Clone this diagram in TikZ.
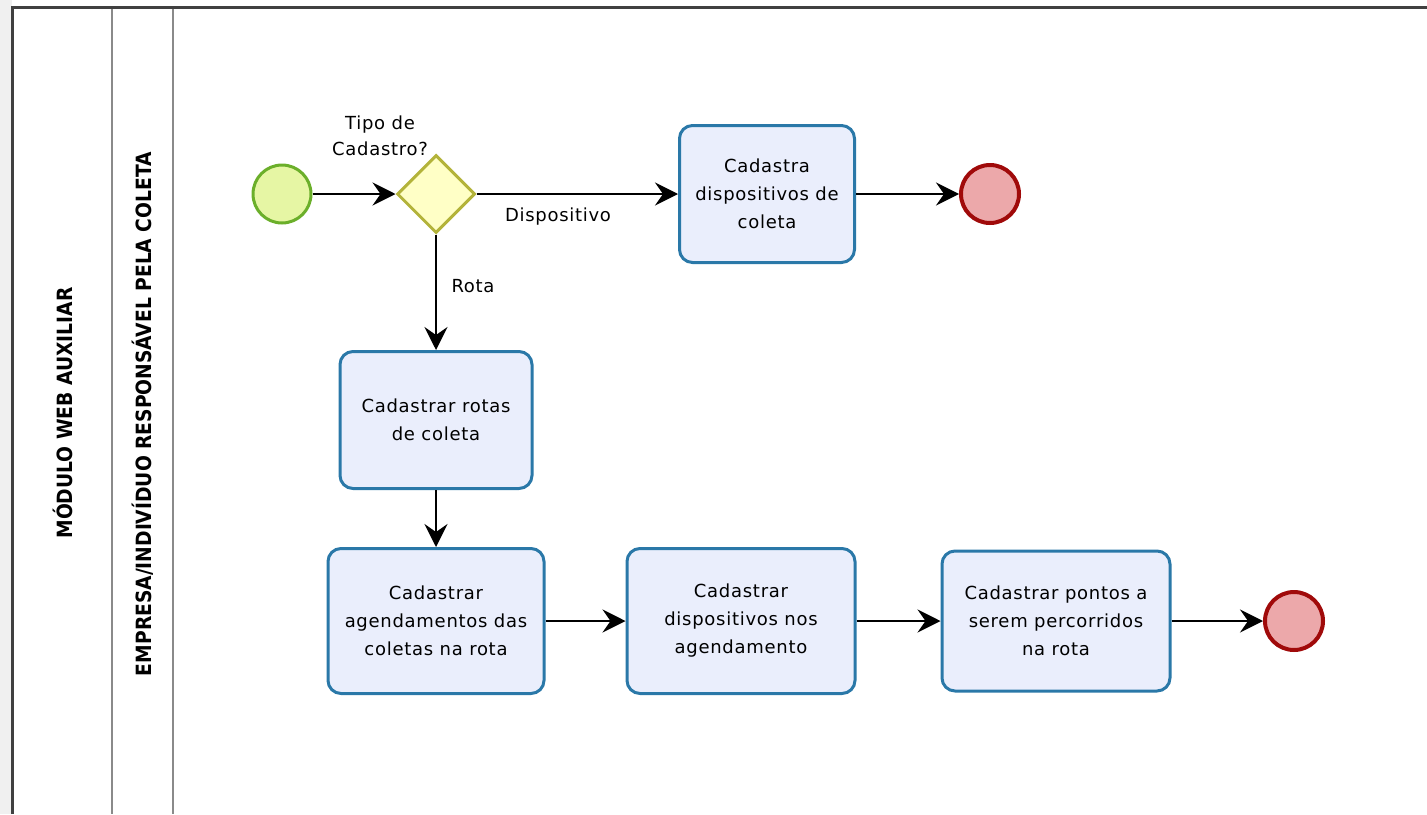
\documentclass[tikz,border=0pt]{standalone}
\usepackage{fontspec}
\usepackage{graphicx}
\setmainfont{DejaVu Sans}[LetterSpace=4]
\newfontfamily\lanefont{DejaVu Sans}
\usetikzlibrary{
    arrows.meta,
    shapes.geometric
}
\definecolor{tarefafill}{HTML}{EAEEFC}
\definecolor{tarefaborda}{HTML}{2A78A8}
\definecolor{iniciofill}{HTML}{E6F6A4}
\definecolor{inicioborda}{HTML}{6BAF2A}
\definecolor{gwfill}{HTML}{FFFFC6}
\definecolor{gwborda}{HTML}{B3B33A}
\definecolor{fimfill}{HTML}{ECA8AA}
\definecolor{fimborda}{HTML}{A00A0A}
\definecolor{raia}{HTML}{8A8A8A}
\tikzset{
  tarefa/.style={
    draw=tarefaborda,
    fill=tarefafill,
    line width=3pt,
    rounded corners=13pt,
    align=center,
    font=\fontsize{18}{28}\selectfont
  },
  evinicio/.style={
    circle,
    draw=inicioborda,
    fill=iniciofill,
    line width=3pt,
    minimum size=58pt
  },
  evfim/.style={
    circle,
    draw=fimborda,
    fill=fimfill,
    line width=4pt,
    minimum size=58pt
  },
  gateway/.style={
    diamond,
    draw=gwborda,
    fill=gwfill,
    line width=3pt,
    minimum size=78pt,
    inner sep=0pt
  },
  fluxo/.style={
    black,
    line width=1.7pt,
    -{Stealth[length=23pt,width=23pt,inset=8pt]}
  },
  rotulo/.style={
    font=\fontsize{18}{27}\selectfont,
    align=center
  },
  lane/.style={
    rotate=90,
    font=\lanefont\bfseries\fontsize{21}{23}\selectfont
  }
}

\begin{document}
\begin{tikzpicture}[x=1pt,y=-1pt]
    \useasboundingbox (0,0) rectangle (1427,814);

    % piscina e raias
    \fill[black!6] (0,0) rectangle (12,814);
    \draw[raia,line width=2pt] (112,7) -- (112,814);
    \draw[raia,line width=2pt] (173,7) -- (173,814);
    \draw[black!75,line width=3pt] (12,814) -- (12,7) -- (1427,7);
    \node[lane] (pool) at (63,413)
        {\scalebox{0.89}[1]{MÓDULO WEB AUXILIAR}};
    \node[lane] (raia1) at (143,414)
        {\scalebox{0.89}[1]{EMPRESA/INDIVÍDUO RESPONSÁVEL PELA COLETA}};

    % eventos e gateway
    \node[evinicio] (inicio) at (282,194) {};
    \node[gateway] (gw) at (436,194) {};
    \node[rotulo] (gwlabel) at (380,136) {Tipo de\\[-1pt]Cadastro?};
    \node[evfim] (fim1) at (990,194) {};
    \node[evfim] (fim2) at (1294,621) {};

    % tarefas
    \node[tarefa,minimum width=175pt,minimum height=137pt]
        (cadDisp) at (767,194) {Cadastra\\dispositivos de\\coleta};
    \node[tarefa,minimum width=192pt,minimum height=137pt]
        (cadRota) at (436,420) {Cadastrar rotas\\de coleta};
    \node[tarefa,minimum width=216pt,minimum height=145pt]
        (cadAgend) at (436,621) {Cadastrar\\agendamentos das\\coletas na rota};
    \node[tarefa,minimum width=228pt,minimum height=145pt]
        (cadDispAg) at (741,621) {Cadastrar\\dispositivos nos\\agendamento};
    \node[tarefa,minimum width=228pt,minimum height=140pt]
        (cadPontos) at (1056,621) {Cadastrar pontos a\\serem percorridos\\na rota};

    % fluxos
    \draw[fluxo] (inicio) -- (gw.west);
    \draw[fluxo] (gw.east) -- (cadDisp.west);
    \node[rotulo] (lblDisp) at (558,217) {Dispositivo};
    \draw[fluxo] (cadDisp) -- (fim1);
    \draw[fluxo] (gw.south) -- (cadRota.north);
    \node[rotulo] (lblRota) at (473,286) {Rota};
    \draw[fluxo] (cadRota) -- (cadAgend);
    \draw[fluxo] (cadAgend) -- (cadDispAg);
    \draw[fluxo] (cadDispAg) -- (cadPontos);
    \draw[fluxo] (cadPontos) -- (fim2);
\end{tikzpicture}
\end{document}
